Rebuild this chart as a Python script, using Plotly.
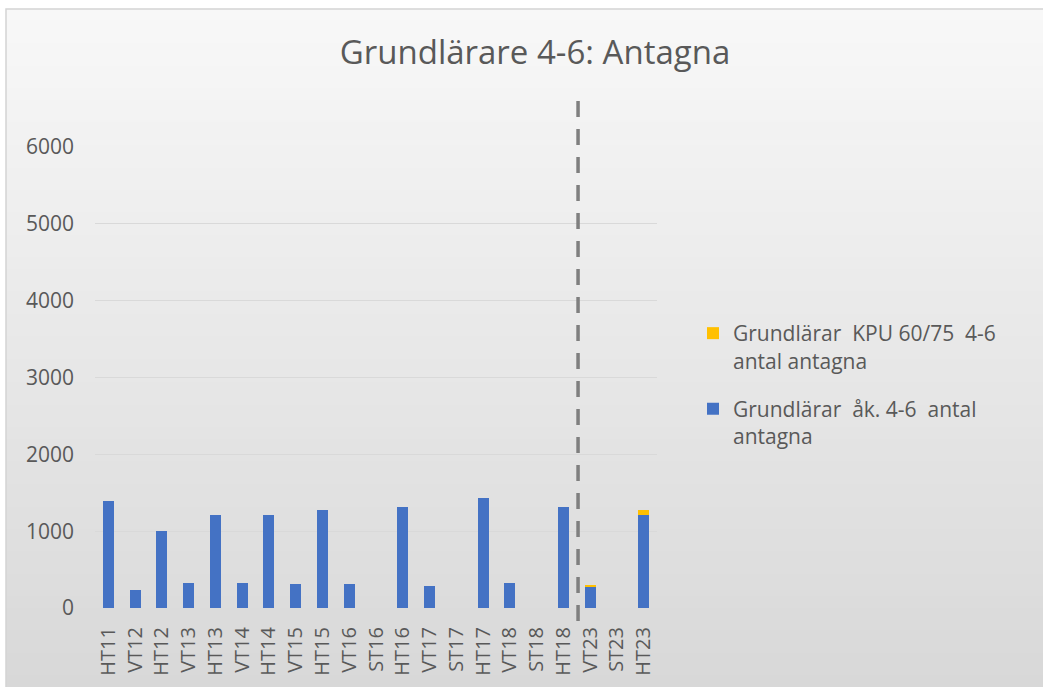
import plotly.graph_objects as go

# Intake terms and admitted students per programme
terms = ["HT11", "VT12", "HT12", "VT13", "HT13", "VT14", "HT14", "VT15", "HT15",
         "VT16", "ST16", "HT16", "VT17", "ST17", "HT17", "VT18", "ST18", "HT18",
         "VT23", "ST23", "HT23"]
grund_ak46 = [1390, 240, 1000, 325, 1210, 330, 1210, 310, 1275,
              318, 0, 1315, 280, 0, 1428, 322, 0, 1320,
              270, 0, 1210]
kpu_4_6 = [0, 0, 0, 0, 0, 0, 0, 0, 0,
           0, 0, 0, 0, 0, 0, 0, 0, 0,
           35, 0, 65]
y_ticks = [0, 1000, 2000, 3000, 4000, 5000, 6000]

W, H = 1043, 687
ML, MR, MT, MB = 95, W - 657, 147, H - 608
PW, PH = W - ML - MR, H - MT - MB


def px_x(px):
    return (px - ML) / PW


def px_y(py):
    return (H - MB - py) / PH


FONT = "Open Sans"
TXT = "#595959"

fig = go.Figure()
fig.add_trace(go.Bar(
    x=terms, y=grund_ak46, name="Grundlärar\u00a0 åk. 4-6\u00a0 antal<br>antagna",
    marker=dict(color="#4472C4", line=dict(width=0)), legendgroup="a", legendrank=2,
))
fig.add_trace(go.Bar(
    x=terms, y=kpu_4_6, name="Grundlärar\u00a0 KPU 60/75\u00a0 4-6<br>antal antagna",
    marker=dict(color="#FFC000", line=dict(width=0)), legendgroup="b", legendrank=1,
))

shapes = []
# vertical background gradient of the chart area
top, bottom, n = 9, H, 60
c0, c1 = 248, 216
for i in range(n):
    y0 = top + (bottom - top) * i / n
    y1 = top + (bottom - top) * (i + 1) / n + 1
    t = (i + 0.5) / n
    c = round(c0 + (c1 - c0) * t)
    shapes.append(dict(type="rect", xref="paper", yref="paper", layer="below",
                       x0=px_x(6), x1=px_x(W + 5), y0=px_y(y0), y1=px_y(y1),
                       fillcolor=f"rgb({c},{c},{c})", line=dict(width=0)))
# chart frame
shapes.append(dict(type="rect", xref="paper", yref="paper", layer="below",
                   x0=px_x(6), x1=px_x(W + 10), y0=px_y(9), y1=px_y(H + 10),
                   fillcolor="rgba(0,0,0,0)", line=dict(color="#d4d4d4", width=1.5)))
# dashed separator between HT18 and VT23
shapes.append(dict(type="line", xref="x", yref="paper",
                   x0=17.55, x1=17.55, y0=px_y(101), y1=px_y(622),
                   line=dict(color="#7f7f7f", width=3.5, dash="16px,12px")))

fig.update_layout(
    width=W, height=H,
    margin=dict(l=ML, r=MR, t=MT, b=MB, pad=0),
    paper_bgcolor="white", plot_bgcolor="rgba(0,0,0,0)",
    barmode="stack", bargap=0.59,
    font=dict(family=FONT, color=TXT),
    title=dict(text="Grundlärare 4-6: Antagna", x=535 / W, xanchor="center",
               y=1 - 52 / H, yanchor="middle",
               font=dict(family=FONT, size=33, color=TXT)),
    xaxis=dict(type="category", tickangle=-90, tickfont=dict(size=20, color=TXT),
               showgrid=False, showline=False, ticks="", ticklabelstandoff=14,
               range=[-0.5, len(terms) - 0.5]),
    yaxis=dict(range=[0, 6000], tickvals=y_ticks, tickfont=dict(size=21, color=TXT),
               gridcolor="#d9d9d9", gridwidth=1, zeroline=False, showline=False,
               ticks="", ticklabelstandoff=20),
    legend=dict(x=px_x(693), y=px_y(313), xanchor="left", yanchor="top",
                traceorder="grouped", valign="top", tracegroupgap=18,
                bgcolor="rgba(0,0,0,0)", font=dict(family=FONT, size=21, color=TXT)),
    shapes=shapes,
)

fig.write_html("out.html")
